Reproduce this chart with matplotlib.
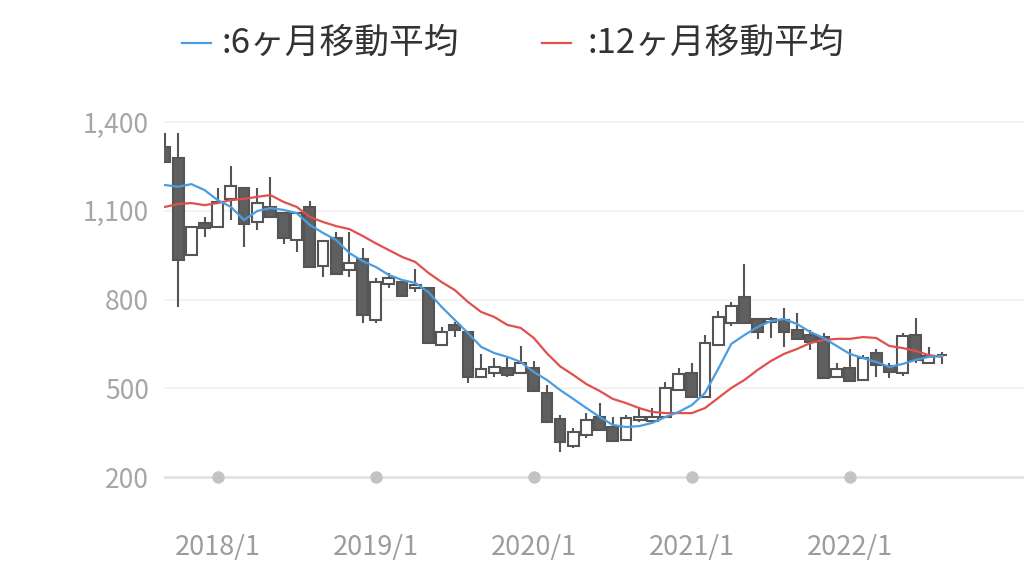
import matplotlib
matplotlib.use("Agg")
import matplotlib.pyplot as plt
from matplotlib.lines import Line2D
import numpy as np

plt.rcParams['font.family'] = ['Noto Sans CJK JP', 'DejaVu Sans']

# Monthly candles 2017/9 .. 2022/8
months = [f"{y}/{m}" for y in range(2017, 2023) for m in range(1, 13)][8:68]
opens  = [1315, 1278,  950, 1059, 1045, 1140, 1177, 1062, 1113, 1092,
          1001, 1113,  913, 1008,  900,  937,  731,  852,  859,  839,
           839,  646,  714,  690,  538,  552,  569,  552,  569,  484,
           396,  305,  342,  403,  369,  325,  393,  389,  403,  494,
           552,  471,  646,  721,  808,  734,  724,  731,  697,  680,
           673,  538,  569,  528,  619,  575,  552,  681,  585,  612]
highs  = [1363, 1363, 1045, 1079, 1177, 1251, 1177, 1177, 1214, 1092,
          1092, 1133,  998, 1028, 1028,  974,  873,  890,  859,  903,
           839,  707,  724,  690,  616,  602,  602,  643,  592,  511,
           410,  366,  417,  450,  403,  410,  437,  433,  521,  568,
           585,  680,  761,  792,  920,  734,  741,  771,  754,  697,
           687,  585,  633,  612,  633,  587,  688,  737,  639,  622]
lows   = [1265,  775,  950, 1011, 1045, 1069,  977, 1035, 1079,  988,
           961,  910,  876,  886,  876,  721,  721,  839,  812,  825,
           653,  646,  673,  518,  538,  538,  538,  552,  491,  386,
           285,  298,  332,  359,  322,  325,  386,  386,  400,  494,
           471,  471,  646,  710,  721,  667,  670,  639,  667,  629,
           535,  538,  525,  528,  538,  536,  543,  585,  585,  582]
closes = [1265,  934, 1045, 1042, 1130, 1184, 1055, 1126, 1079, 1008,
          1092,  910,  998,  886,  923,  748,  859,  873,  812,  849,
           653,  690,  697,  538,  565,  572,  545,  585,  491,  386,
           318,  352,  393,  359,  322,  400,  403,  403,  501,  548,
           471,  653,  741,  778,  721,  690,  734,  690,  667,  656,
           535,  565,  525,  602,  579,  555,  676,  595,  610,  614]

ma6  = [1187, 1181, 1190, 1170, 1136, 1113, 1069, 1099, 1109, 1103,
        1092, 1052, 1025, 1001,  957,  930,  910,  883,  866,  856,
         825,  775,  731,  687,  640,  619,  606,  589,  555,  528,
         494,  464,  433,  403,  376,  369,  372,  383,  403,  420,
         443,  484,  565,  650,  680,  707,  727,  734,  717,  690,
         670,  643,  616,  602,  589,  572,  582,  596,  606,  609]
ma12 = [1113, 1123, 1126, 1119, 1126, 1136, 1140, 1147, 1153, 1130,
        1113, 1079, 1062, 1048, 1038, 1015,  990,  967,  944,  927,
         890,  859,  832,  792,  758,  741,  714,  704,  670,  618,
         574,  545,  514,  491,  464,  450,  433,  420,  416,  416,
         416,  433,  467,  501,  528,  562,  592,  616,  633,  653,
         663,  667,  667,  673,  670,  643,  636,  626,  612,  606]

y_ticks = [200, 500, 800, 1100, 1400]
y_tick_labels = ["200", "500", "800", "1,100", "1,400"]
x_tick_labels = ["2018/1", "2019/1", "2020/1", "2021/1", "2022/1"]
x_tick_pos = [months.index(m) for m in x_tick_labels]

legend_labels = [":6ヶ月移動平均", ":12ヶ月移動平均"]
blue = "#4a9de0"
red = "#e0504c"
dark = "#5f5f5f"
edge = "#555555"

W, H = 1024, 564
fig = plt.figure(figsize=(W / 100, H / 100), dpi=100)
top_px, bot_px, left_px = 110, 490, 164
ax = fig.add_axes([left_px / W, (H - bot_px) / H, (W - left_px) / W, (bot_px - top_px) / H])

# value <-> pixel calibration: 1400 at y=122, 200 at y=477
vpp = 1200 / 355.0
ax.set_ylim(1400 - (bot_px - 122) * vpp, 1400 + (122 - top_px) * vpp)
spacing = 13.17
ax.set_xlim((left_px - 165) / spacing, (W - 165) / spacing)

for s in ax.spines.values():
    s.set_visible(False)

for yv in y_ticks[1:]:
    ax.axhline(yv, color="#f0f0f0", lw=1.1, zorder=0)
ax.axhline(200, color="#e2e2e2", lw=2.0, zorder=0)
ax.scatter(x_tick_pos, [200] * len(x_tick_pos), s=9.0 ** 2, color="#c3c3c3",
           zorder=1, linewidths=0)

x = np.arange(len(opens))
o = np.array(opens); c = np.array(closes)
ax.vlines(x, lows, highs, color=edge, lw=1.5, zorder=2)
up = c >= o
bottoms = np.minimum(o, c)
heights = np.abs(c - o)
ax.bar(x[up], heights[up], bottom=bottoms[up], width=0.82, color="white",
       edgecolor=edge, linewidth=1.5, zorder=3)
ax.bar(x[~up], heights[~up], bottom=bottoms[~up], width=0.82, color=dark,
       edgecolor=edge, linewidth=1.5, zorder=3)

ax.plot(x, ma12, color=red, lw=1.6, zorder=4, solid_joinstyle="round")
ax.plot(x, ma6, color=blue, lw=1.6, zorder=5, solid_joinstyle="round")

ax.set_yticks(y_ticks)
ax.set_yticklabels(y_tick_labels)
ax.set_xticks(x_tick_pos)
ax.set_xticklabels(x_tick_labels)
ax.tick_params(axis="y", length=0, pad=11, labelsize=19, labelcolor="#a6a6a6")
ax.tick_params(axis="x", length=0, pad=32, labelsize=19.5, labelcolor="#9c9c9c")

# legend
ly = 1 - 43 / H
fig.add_artist(Line2D([182 / W, 211 / W], [ly, ly], color=blue, lw=1.6,
                      transform=fig.transFigure))
fig.text(222 / W, ly, legend_labels[0], fontsize=25, color="#333333",
         va="center", ha="left")
fig.add_artist(Line2D([542 / W, 571 / W], [ly, ly], color=red, lw=1.6,
                      transform=fig.transFigure))
fig.text(588 / W, ly, legend_labels[1], fontsize=25, color="#333333",
         va="center", ha="left")

fig.savefig("out.png", dpi=100, facecolor="white")
